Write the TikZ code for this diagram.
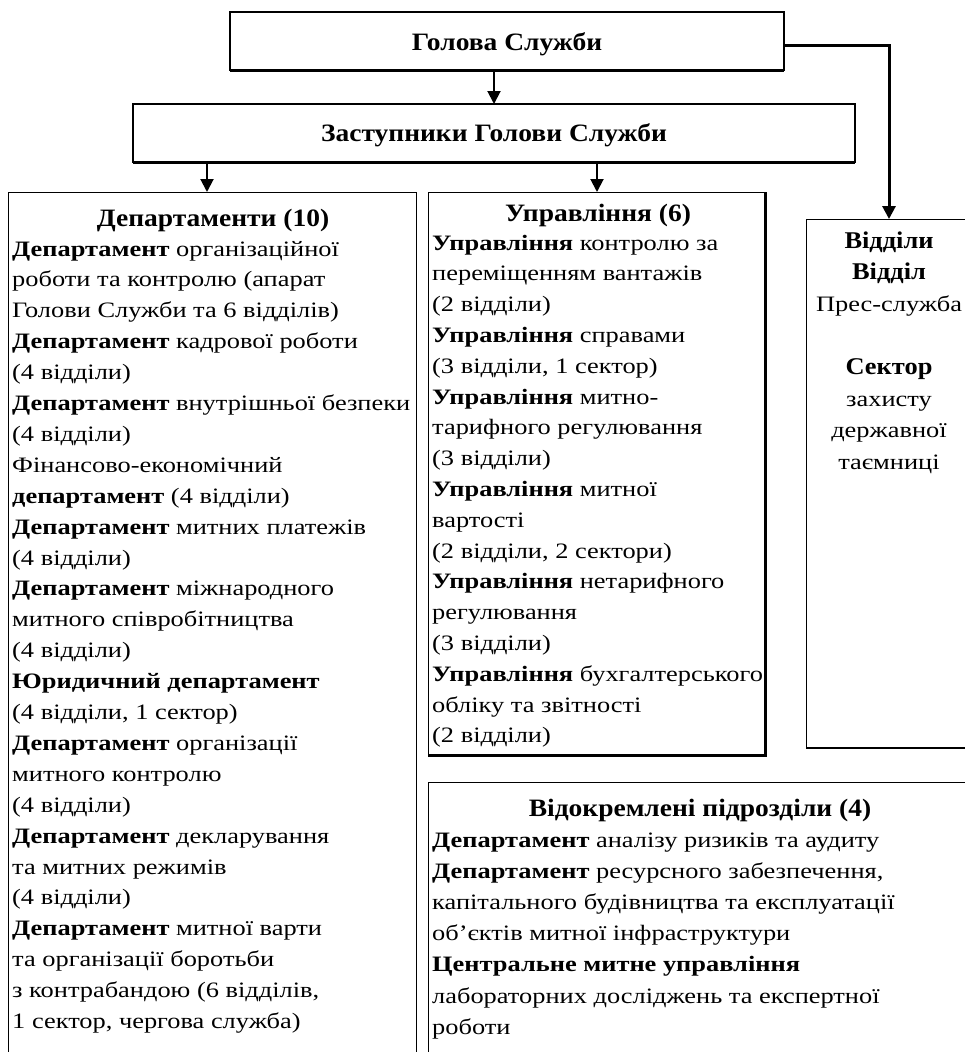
\documentclass[tikz,border=0pt]{standalone}
\usepackage{fontspec}
\setmainfont[FakeStretch=1.2]{Liberation Serif}
\newfontfamily\ttlfam[FakeStretch=1.1]{Liberation Serif}
\usetikzlibrary{arrows.meta,calc}
\newcommand{\bodyfont}{\fontsize{22}{30.9}\selectfont}
\newcommand{\ttlfont}{\ttlfam\fontsize{25}{30}\selectfont\bfseries}
\hbadness=10000
\hfuzz=50pt
\begin{document}
\begin{tikzpicture}[x=1pt,y=-1pt,
  box/.style={draw,line width=1pt,inner sep=0pt,outer sep=0pt,anchor=north west},
  arr/.style={line width=2pt,-{Triangle[width=13pt,length=13pt]}},
  body/.style={anchor=base west,inner sep=0pt},
  ttl/.style={anchor=base,inner sep=0pt,font=\ttlfont}]
\useasboundingbox (0,0) rectangle (964,1052);
% boxes
\node[box,line width=2pt,minimum width=554pt,minimum height=58pt] (head) at (230,12) {};
\draw[line width=3pt] (head.south west) -- (head.south east);
\node[box,line width=2pt,minimum width=722pt,minimum height=58pt] (dep2) at (133,104) {};
\draw[line width=3pt] (dep2.south west) -- (dep2.south east);
\node[box,minimum width=408pt,minimum height=900pt] (dep) at (8,192) {};
\node[box,minimum width=337pt,minimum height=563pt] (upr) at (428,192) {};
\draw[line width=3pt] (upr.south west) -- (upr.south east) -- (upr.north east);
\node[box,minimum width=166pt,minimum height=529pt] (vid) at (806,219) {};
\draw[line width=2pt] (vid.south west) -- (vid.south east);
\node[box,minimum width=560pt,minimum height=300pt] (vok) at (428,782) {};
% connectors
\coordinate (a1) at (207,0);
\coordinate (a2) at (597,0);
\draw[arr] (head.south -| dep2.north) -- (dep2.north);
\draw[arr] (dep2.south -| a1) -- (dep.north -| a1);
\draw[arr] (dep2.south -| a2) -- (upr.north -| a2);
\draw[line width=3pt,-{Triangle[width=13pt,length=13pt]}] ([yshift=-4pt]head.east) -| (vid.north);
% titles
\node[ttl] (headt) at (507,50) {Голова Служби};
\node[ttl] (dep2t) at (494,141) {Заступники Голови Служби};
\node[ttl] (dept) at (213,226) {Департаменти (10)};
\node[ttl] (uprt) at (598,221) {Управління (6)};
\node[ttl] (vokt) at (700,816) {Відокремлені підрозділи (4)};
% bodies
\node[body] (depb) at (12,256) {\parbox[t]{600pt}{\raggedright\bodyfont
\textbf{Департамент} організаційної\\
роботи та контролю (апарат\\
Голови Служби та 6 відділів)\\
\textbf{Департамент} кадрової роботи\\
(4 відділи)\\
\textbf{Департамент} внутрішньої безпеки\\
(4 відділи)\\
Фінансово-економічний\\
\textbf{департамент} (4 відділи)\\
\textbf{Департамент} митних платежів\\
(4 відділи)\\
\textbf{Департамент} міжнародного\\
митного співробітництва\\
(4 відділи)\\
\textbf{Юридичний департамент}\\
(4 відділи, 1 сектор)\\
\textbf{Департамент} організації\\
митного контролю\\
(4 відділи)\\
\textbf{Департамент} декларування\\
та митних режимів\\
(4 відділи)\\
\textbf{Департамент} митної варти\\
та організації боротьби\\
з контрабандою (6 відділів,\\
1 сектор, чергова служба)}};
\node[body] (uprb) at (432,250) {\parbox[t]{600pt}{\raggedright\fontsize{22}{30.8}\selectfont
\textbf{Управління} контролю за\\
переміщенням вантажів\\
(2 відділи)\\
\textbf{Управління} справами\\
(3 відділи, 1 сектор)\\
\textbf{Управління} митно-\\
тарифного регулювання\\
(3 відділи)\\
\textbf{Управління} митної\\
вартості\\
(2 відділи, 2 сектори)\\
\textbf{Управління} нетарифного\\
регулювання\\
(3 відділи)\\
\textbf{Управління} бухгалтерського\\
обліку та звітності\\
(2 відділи)}};
\node[anchor=base,inner sep=0pt] (vidb) at (889,248) {\parbox[t]{200pt}{\centering\fontsize{22}{31.6}\selectfont
{\ttlfam\fontsize{24}{31.6}\selectfont\textbf{Відділи}}\\
{\ttlfam\fontsize{24}{31.6}\selectfont\textbf{Відділ}}\\
Прес-служба\\[31.6pt]
{\ttlfam\fontsize{24}{31.6}\selectfont\textbf{Сектор}}\\
захисту\\
державної\\
таємниці}};
\node[body] (vokb) at (432,847) {\parbox[t]{600pt}{\raggedright\fontsize{22}{31.2}\selectfont
\textbf{Департамент} аналізу ризиків та аудиту\\
\textbf{Департамент} ресурсного забезпечення,\\
капітального будівництва та експлуатації\\
об’єктів митної інфраструктури\\
\textbf{Центральне митне управління}\\
лабораторних досліджень та експертної\\
роботи}};
\end{tikzpicture}
\end{document}
